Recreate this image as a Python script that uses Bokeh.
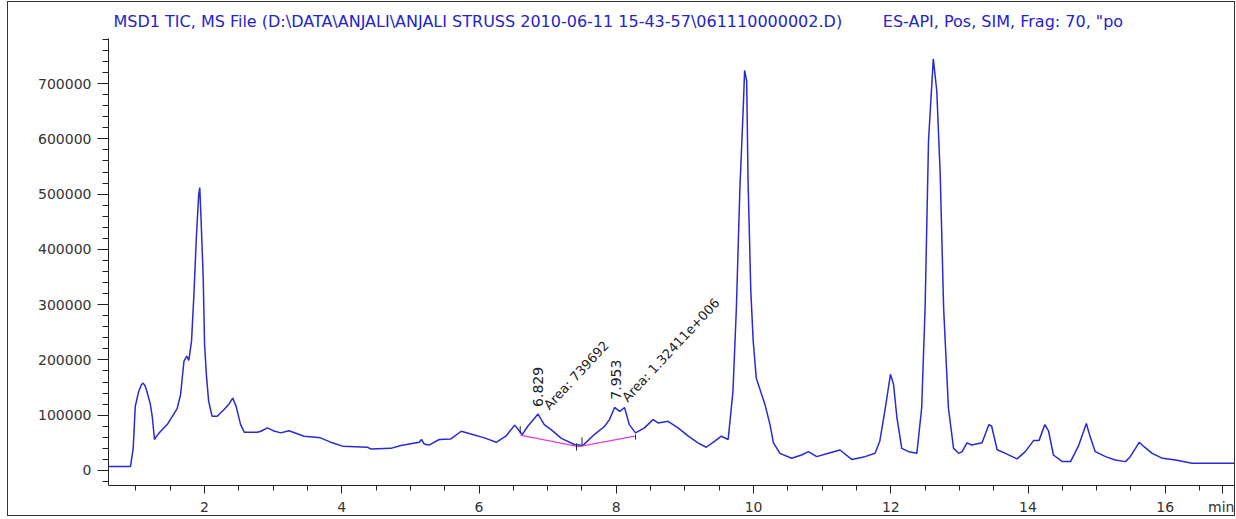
from bokeh.plotting import figure
from bokeh.models import Range1d, FixedTicker, BasicTickFormatter
from bokeh.core.properties import value
from bokeh.embed import file_html
from bokeh.resources import INLINE

title_text = (r'MSD1 TIC, MS File (D:\DATA\ANJALI\ANJALI STRUSS 2010-06-11 15-43-57\061110000002.D)'
              + '\u00a0' * 8 + r'ES-API, Pos, SIM, Frag: 70, "po')

time_min = [0.60, 0.92, 0.96, 0.99, 1.04, 1.08, 1.105, 1.13, 1.16, 1.21, 1.24, 1.27, 1.30, 1.36,
            1.455, 1.53, 1.60, 1.65, 1.70, 1.74, 1.77, 1.81, 1.845, 1.88, 1.915, 1.93, 1.95, 1.98,
            2.00, 2.03, 2.06, 2.11, 2.185, 2.28, 2.355, 2.41, 2.46, 2.525, 2.58, 2.77, 2.82, 2.915,
            3.00, 3.11, 3.23, 3.45, 3.69, 3.86, 4.01, 4.375, 4.42, 4.715, 4.86, 5.13, 5.16, 5.20,
            5.27, 5.42, 5.59, 5.74, 5.88, 6.08, 6.25, 6.39, 6.52, 6.59, 6.63, 6.71, 6.86, 6.95,
            7.05, 7.20, 7.39, 7.51, 7.68, 7.83, 7.90, 7.975, 8.05, 8.12, 8.19, 8.28, 8.41, 8.535,
            8.61, 8.755, 8.90, 9.05, 9.19, 9.31, 9.435, 9.53, 9.63, 9.70, 9.75, 9.80, 9.85, 9.87,
            9.90, 9.92, 9.96, 9.995, 10.04, 10.165, 10.24, 10.29, 10.385, 10.555, 10.70, 10.80,
            10.92, 11.09, 11.26, 11.43, 11.625, 11.77, 11.84, 11.92, 11.995, 12.04, 12.09, 12.16,
            12.26, 12.38, 12.45, 12.50, 12.55, 12.62, 12.67, 12.72, 12.77, 12.84, 12.915, 12.99,
            13.04, 13.11, 13.18, 13.33, 13.43, 13.47, 13.55, 13.67, 13.84, 13.96, 14.08, 14.16,
            14.245, 14.30, 14.37, 14.50, 14.62, 14.74, 14.85, 14.91, 14.98, 15.13, 15.27, 15.42,
            15.49, 15.62, 15.69, 15.81, 15.96, 16.15, 16.39, 16.54, 17.10]
tic = [7000, 7000, 40000, 116000, 143000, 155000, 158000, 154000, 143000, 120000, 95000, 56000,
       62000, 71000, 83000, 98000, 112000, 137000, 198000, 207000, 199000, 234000, 319000, 421000,
       500000, 512000, 451000, 349000, 228000, 167000, 125000, 98000, 98000, 110000, 120000,
       131000, 116000, 83000, 69000, 69000, 71000, 77000, 72000, 68000, 72000, 62000, 59000,
       50000, 44000, 42000, 39000, 40000, 45000, 51000, 56000, 48000, 46000, 56000, 57000, 71000,
       66000, 59000, 51000, 62000, 82000, 71000, 65000, 80000, 102000, 83000, 74000, 58000, 47000,
       45000, 65000, 80000, 92000, 114000, 107000, 114000, 83000, 68000, 77000, 92000, 86000,
       89000, 77000, 62000, 50000, 42000, 53000, 62000, 56000, 143000, 294000, 506000, 657000,
       724000, 705000, 524000, 325000, 234000, 167000, 120000, 83000, 50000, 31000, 22000, 28000,
       34000, 25000, 31000, 37000, 20000, 25000, 31000, 53000, 113000, 174000, 156000, 95000,
       40000, 34000, 31000, 113000, 294000, 597000, 745000, 687000, 537000, 294000, 113000,
       40000, 31000, 34000, 50000, 46000, 50000, 83000, 80000, 37500, 31000, 21000, 34000, 54000,
       54000, 83000, 71000, 28000, 16000, 16000, 46000, 85000, 59000, 34000, 25000, 19000, 16000,
       25000, 51000, 43000, 31000, 22000, 19000, 13000, 13000, 13000]

baseline_t = [6.60, 7.45, 8.27]
baseline_v = [64000, 43000, 62000]
mark_t = [6.60, 7.42, 7.50, 8.28]
mark_lo = [67000, 36000, 45000, 56000]
mark_hi = [80000, 49000, 60000, 65000]

rt_labels = ["6.829", "7.953"]
rt_label_t = [6.86, 8.00]
rt_label_v = [115000, 128000]
area_labels = ["Area: 739692", "Area: 1.32411e+006"]
area_label_t = [6.98, 8.12]
area_label_v = [114000, 128000]

x_major = [2, 4, 6, 8, 10, 12, 14, 16, 16.84]
x_labels = {16.84: "min"}
x_minor = [1.0, 1.5, 2.5, 3.0, 3.5, 4.5, 5.0, 5.5, 6.5, 7.0, 7.5, 8.5, 9.0, 9.5, 10.5, 11.0,
           11.5, 12.5, 13.0, 13.5, 14.5, 15.0, 15.5, 16.5]
y_major = [0, 100000, 200000, 300000, 400000, 500000, 600000, 700000]
y_minor = [v * 20000 for v in range(-1, 40)]

p = figure(width=1226, height=513, x_range=Range1d(0.6, 17.038), y_range=Range1d(-27200, 781600),
           output_backend="svg", toolbar_location=None,
           min_border_left=100, min_border_right=0, min_border_top=36, min_border_bottom=31,
           outline_line_color=None, margin=(1, 0, 0, 7))
p.styles = {"border": "1px solid #333333", "box-sizing": "content-box"}
p.background_fill_color = "white"
p.border_fill_color = "white"
p.grid.visible = False

p.title.text = title_text
p.title.text_font = "DejaVu Sans"
p.title.text_font_size = "16px"
p.title.text_font_style = "normal"
p.title.text_color = "#2424c8"
p.title.offset = 5
p.title.standoff = 15

for ax in (p.xaxis[0], p.yaxis[0]):
    ax.axis_line_color = "#222222"
    ax.major_tick_line_color = "#222222"
    ax.minor_tick_line_color = "#222222"
    ax.major_tick_in = 0
    ax.minor_tick_in = 0
    ax.major_label_text_font = "DejaVu Sans"
    ax.major_label_text_font_size = "14px"
    ax.major_label_text_color = "#333333"

p.xaxis.ticker = FixedTicker(ticks=x_major, minor_ticks=x_minor)
p.xaxis.major_label_overrides = x_labels
p.xaxis.major_tick_out = 8
p.xaxis.minor_tick_out = 5
p.xaxis.major_label_standoff = 5
p.yaxis.ticker = FixedTicker(ticks=y_major, minor_ticks=y_minor)
p.yaxis.formatter = BasicTickFormatter(use_scientific=False)
p.yaxis.major_tick_out = 11
p.yaxis.minor_tick_out = 6
p.yaxis.major_label_standoff = 6

p.line(time_min, tic, line_color="#2a2ad0", line_width=1.5)
p.line(baseline_t, baseline_v, line_color="#e040d0", line_width=1.3)
p.segment(x0=mark_t, y0=mark_lo, x1=mark_t, y1=mark_hi, line_color="#222222", line_width=1)

p.text(x=rt_label_t, y=rt_label_v, text=rt_labels, angle=1.5708, text_align="left",
       text_baseline="middle", text_font=value("DejaVu Sans"), text_font_size="14px",
       text_color="#222222")
p.text(x=area_label_t, y=area_label_v, text=area_labels, angle=0.82, text_align="left",
       text_baseline="middle", text_font=value("DejaVu Sans"), text_font_size="13px",
       text_color="#222222")

open("out.html", "w").write(file_html(p, INLINE))
